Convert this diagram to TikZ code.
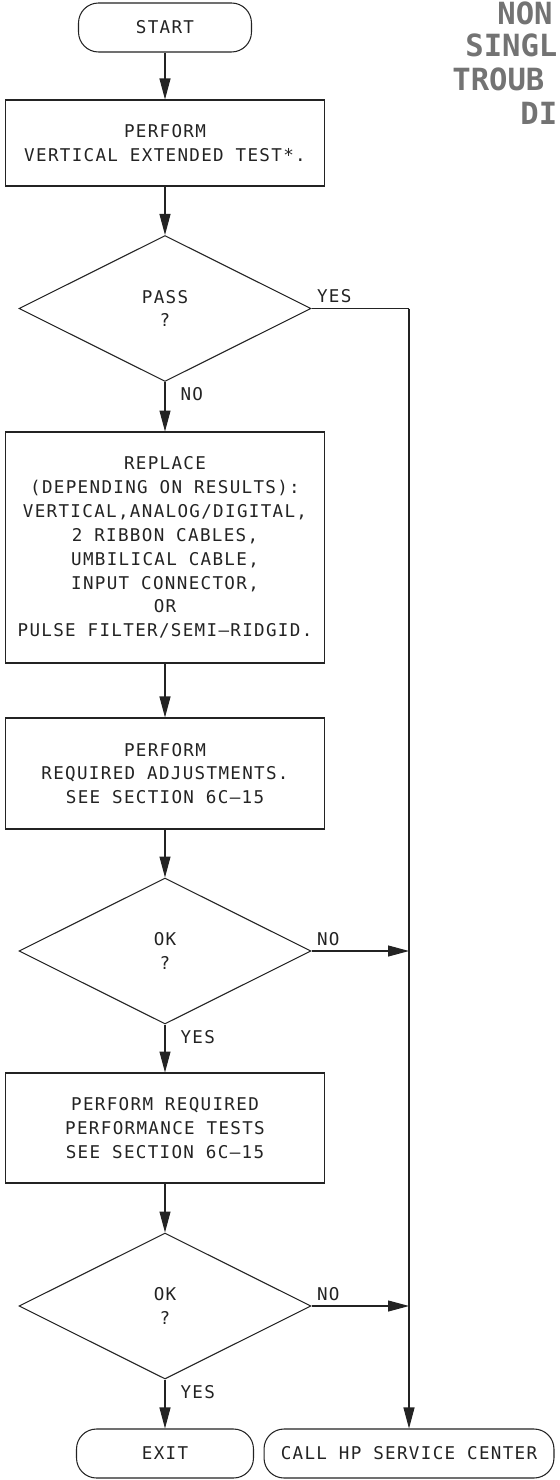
\documentclass[tikz,border=0pt]{standalone}
\usepackage{fontspec}
\usepackage{tikz}
\usetikzlibrary{shapes.geometric,arrows.meta}
\newfontfamily\plotfont[LetterSpace=7.5]{DejaVu Sans Mono}
\newfontfamily\hdrfont{DejaVu Sans Mono}
\definecolor{inkgray}{RGB}{35,35,35}

\begin{document}
\begin{tikzpicture}[
  x=0.02cm, y=-0.02cm,
  box/.style={rectangle, draw=inkgray, semithick, minimum width=6.4cm, inner sep=0pt, align=center, text=inkgray, font=\plotfont\fontsize{10}{13.6}\selectfont},
  terminal/.style={rectangle, rounded corners=0.4cm, draw=inkgray, semithick, minimum height=0.98cm, inner sep=0pt, text=inkgray, font=\plotfont\fontsize{10}{13.6}\selectfont},
  decision/.style={diamond, draw=inkgray, semithick, minimum width=5.84cm, minimum height=2.92cm, inner sep=0pt, align=center, text=inkgray, font=\plotfont\fontsize{10}{13.6}\selectfont},
  arrow/.style={-{Triangle[length=0.42cm,width=0.22cm]}, semithick, color=inkgray},
  wire/.style={semithick, color=inkgray},
  lbl/.style={inner sep=0.1cm, text=inkgray, font=\plotfont\fontsize{10}{13.6}\selectfont},
  hdr/.style={anchor=west, inner sep=0pt, text=black!55, font=\hdrfont\bfseries\fontsize{17.4}{20}\selectfont}
]
  \useasboundingbox (0,0) rectangle (559,1480);

  % title at the right edge
  \node[hdr] (hdrnon) at (497,13) {NON};
  \node[hdr] (hdrsingl) at (465,45) {SINGL};
  \node[hdr] (hdrtroub) at (452,79) {TROUB};
  \node[hdr] (hdrdi) at (520,113) {DI};

  \node[terminal, minimum width=3.46cm] (start) at (165,27.5) {START};
  \node[box, minimum height=1.72cm] (exttest) at (165,143) {PERFORM\\VERTICAL EXTENDED TEST*.};
  \node[decision] (pass) at (165,308.5) {PASS\\?};
  \node[box, minimum height=4.62cm] (replace) at (165,547.5) {REPLACE\\(DEPENDING ON RESULTS):\\VERTICAL,ANALOG/DIGITAL,\\2 RIBBON CABLES,\\UMBILICAL CABLE,\\INPUT CONNECTOR,\\OR\\PULSE FILTER/SEMI–RIDGID.};
  \node[box, minimum height=2.22cm] (adjust) at (165,773.5) {PERFORM\\REQUIRED ADJUSTMENTS.\\SEE SECTION 6C–15};
  \node[decision] (okadj) at (165,951) {OK\\?};
  \node[box, minimum height=2.2cm] (perftest) at (165,1128) {PERFORM REQUIRED\\PERFORMANCE TESTS\\SEE SECTION 6C–15};
  \node[decision] (okperf) at (165,1306) {OK\\?};
  \node[terminal, minimum width=3.54cm] (exit) at (165,1453.5) {EXIT};
  \node[terminal, minimum width=5.8cm] (callhp) at (409,1453.5) {CALL HP SERVICE CENTER};
  \coordinate (bus) at (409,308.5);

  \draw[arrow] (start) -- (exttest);
  \draw[arrow] (exttest) -- (pass);
  \draw[arrow] (pass) -- node[lbl, pos=0, anchor=north west, xshift=0.2cm] {NO} (replace);
  \draw[arrow] (replace) -- (adjust);
  \draw[arrow] (adjust) -- (okadj);
  \draw[arrow] (okadj) -- node[lbl, pos=0, anchor=north west, xshift=0.2cm] {YES} (perftest);
  \draw[arrow] (perftest) -- (okperf);
  \draw[arrow] (okperf) -- node[lbl, pos=0, anchor=north west, xshift=0.2cm] {YES} (exit);

  \draw[wire] (pass.east) -- node[lbl, pos=0, anchor=south west] {YES} (bus);
  \draw[arrow] (bus) -- (callhp);
  \draw[arrow] (okadj.east) -- node[lbl, pos=0, anchor=south west] {NO} (okadj.east -| bus);
  \draw[arrow] (okperf.east) -- node[lbl, pos=0, anchor=south west] {NO} (okperf.east -| bus);
\end{tikzpicture}
\end{document}
